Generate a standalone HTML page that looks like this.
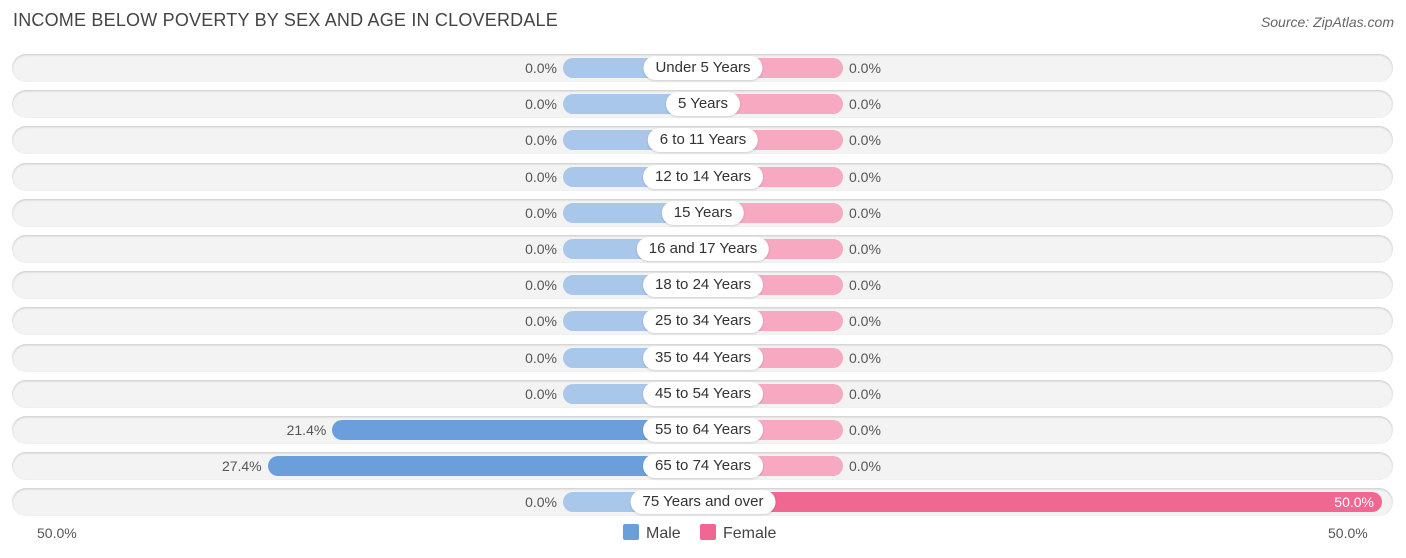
<!DOCTYPE html>
<html><head><meta charset="utf-8"><style>
body{margin:0;width:1406px;height:558px;background:#fff;font-family:"Liberation Sans",sans-serif;position:relative;overflow:hidden}
.abs{position:absolute}
</style></head><body>
<div class="abs" style="left:13px;top:10px;font-size:18px;color:#444;letter-spacing:0.2px">INCOME BELOW POVERTY BY SEX AND AGE IN CLOVERDALE</div>
<div class="abs" style="right:12px;top:14px;font-size:14px;color:#666;font-style:italic">Source: ZipAtlas.com</div>
<div id="chart"></div>
<div class="abs" style="left:37px;top:525px;font-size:14px;color:#555">50.0%</div>
<div class="abs" style="left:1328px;top:525px;font-size:14px;color:#555">50.0%</div>
<div class="abs" style="left:623px;top:524px;font-size:16px;color:#444"><span style="display:inline-block;width:16px;height:16px;background:#6a9fdc;border-radius:2px;vertical-align:-2px;margin-right:7px"></span>Male</div>
<div class="abs" style="left:700px;top:524px;font-size:16px;color:#444"><span style="display:inline-block;width:16px;height:16px;background:#f06892;border-radius:2px;vertical-align:-2px;margin-right:7px"></span>Female</div>
<script>
const categories=["Under 5 Years","5 Years","6 to 11 Years","12 to 14 Years","15 Years","16 and 17 Years","18 to 24 Years","25 to 34 Years","35 to 44 Years","45 to 54 Years","55 to 64 Years","65 to 74 Years","75 Years and over"];
const maleValues=[0,0,0,0,0,0,0,0,0,0,21.4,27.4,0];
const femaleValues=[0,0,0,0,0,0,0,0,0,0,0,0,50.0];
const CX=703,STUB=140,PER=10.78,Y0=68,DY=36.2;
function len(v){return STUB+v*PER;}
function yPos(i){return Y0+i*DY;}
const chart=document.getElementById('chart');
categories.forEach((c,i)=>{
  const y=yPos(i);
  const row=document.createElement('div');
  
  
  row.className='abs';
  row.style.cssText=`left:12px;top:${y-14}px;width:1381px;height:28px;border-radius:14px;background:#f3f3f3;box-shadow:inset 0 1px 2px rgba(0,0,0,0.18)`;
  chart.appendChild(row);
  const mv=maleValues[i],fv=femaleValues[i];
  const ml=len(mv),fl=len(fv);
  const mb=document.createElement('div');
  
  
  mb.className='abs';
  mb.style.cssText=`left:${CX-ml}px;top:${y-10}px;width:${ml}px;height:20px;border-radius:10px 0 0 10px;background:${mv>0?'#6a9fdc':'#a9c7ea'}`;
  chart.appendChild(mb);
  const fb=document.createElement('div');
  
  
  fb.className='abs';
  fb.style.cssText=`left:${CX}px;top:${y-10}px;width:${fl}px;height:20px;border-radius:0 10px 10px 0;background:${fv>0?'#f06892':'#f6a9c1'}`;
  chart.appendChild(fb);
  const ml2=document.createElement('div');
  
  
  ml2.className='abs';
  ml2.textContent=mv.toFixed(1)+'%';
  ml2.style.cssText=`right:${1406-(CX-ml-6)}px;top:${y-8}px;font-size:14px;color:#555`;
  chart.appendChild(ml2);
  const fl2=document.createElement('div');
  
  
  fl2.className='abs';
  fl2.textContent=fv.toFixed(1)+'%';
  if(fv>20){fl2.style.cssText=`right:${1406-(CX+fl-8)}px;top:${y-8}px;font-size:14px;color:#fff`;}
  else{fl2.style.cssText=`left:${CX+fl+6}px;top:${y-8}px;font-size:14px;color:#555`;}
  chart.appendChild(fl2);
  const lb=document.createElement('div');
  
  
  lb.className='abs';
  lb.textContent=c;
  lb.style.cssText=`left:${CX}px;top:${y-12}px;transform:translateX(-50%);height:24px;line-height:24px;padding:0 12px;border-radius:12px;background:#fff;font-size:15px;color:#333;white-space:nowrap;box-shadow:0 1px 2px rgba(0,0,0,0.15)`;
  chart.appendChild(lb);
});
</script>
</body></html>
